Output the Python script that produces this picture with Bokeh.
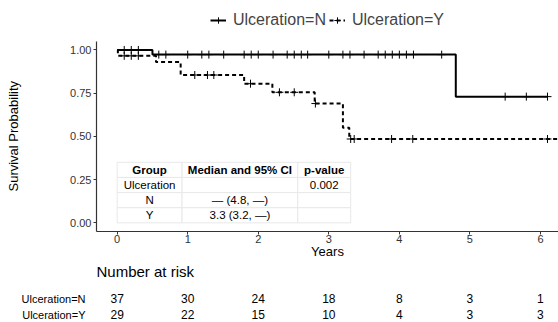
import numpy as np
from bokeh.plotting import figure
from bokeh.models import (Range1d, FactorRange, FixedTicker, NumeralTickFormatter,
                          Legend, LegendItem, ColumnDataSource, Title)
from bokeh.layouts import column
from bokeh.embed import file_html
from bokeh.resources import INLINE
from bokeh.core.properties import value

FONT = "Liberation Sans"

# ---------------- data ----------------
year_ticks = [0, 1, 2, 3, 4, 5, 6]
surv_ticks = [0.0, 0.25, 0.5, 0.75, 1.0]

groups = ["Ulceration=N", "Ulceration=Y"]

n_step_time = [0.0, 0.5, 4.8, 6.1]
n_step_surv = [1.0, 0.973, 0.730, 0.730]
n_censor_time = [0.1, 0.2, 0.3, 0.59, 0.69, 1.0, 1.2, 1.3, 1.51, 1.8, 1.9, 2.0, 2.21,
                 2.41, 2.51, 2.61, 2.7, 3.0, 3.2, 3.3, 3.5, 3.7, 3.8, 3.9, 4.0, 4.1,
                 4.2, 4.6, 5.5, 5.8, 6.1]

y_step_time = [0.0, 0.01, 0.55, 0.9, 1.8, 2.2, 2.8, 3.2, 3.29, 6.6]
y_step_surv = [1.0, 0.966, 0.93, 0.855, 0.805, 0.755, 0.69, 0.55, 0.485, 0.485]
y_censor_time = [0.1, 0.2, 0.3, 1.1, 1.28, 1.37, 1.89, 2.3, 2.51, 2.81, 3.31, 3.36,
                 3.89, 4.19, 6.1]

risk_times = [0, 1, 2, 3, 4, 5, 6]
risk_n = [37, 30, 24, 18, 8, 3, 1]
risk_y = [29, 22, 15, 10, 4, 3, 3]

table_header = ["Group", "Median and 95% CI", "p-value"]
table_rows = [["Ulceration", "", "0.002"],
              ["N", "\u2014 (4.8, \u2014)", ""],
              ["Y", "3.3 (3.2, \u2014)", ""]]


def surv_at(step_t, step_s, t):
    idx = np.searchsorted(np.array(step_t), np.array(t), side="right") - 1
    return list(np.array(step_s)[idx])


# ---------------- main KM plot ----------------
# frame spans the whole top of the figure; the axis line is bounded to [-0.05, 1.05]
x_rng = Range1d(-0.293, 6.256)
p = figure(width=558, height=282, x_range=x_rng, y_range=Range1d(-0.05, 1.286),
           output_backend="svg", toolbar_location=None,
           min_border_left=96, min_border_right=0, min_border_top=0, min_border_bottom=50)
p.outline_line_color = None
p.grid.visible = False

rN = p.step(n_step_time, n_step_surv, mode="after", line_width=2, line_color="black")
sN = p.scatter(n_censor_time, surv_at(n_step_time, n_step_surv, n_censor_time),
               marker="cross", size=8, line_width=1, line_color="black")
rY = p.step(y_step_time, y_step_surv, mode="after", line_width=2, line_color="black",
            line_dash="4 3")
sY = p.scatter(y_censor_time, surv_at(y_step_time, y_step_surv, y_censor_time),
               marker="cross", size=8, line_width=1, line_color="black")

# table inside the plot
col_edges = [0.0, 0.92, 2.56, 3.31]
row_edges = [0.35, 0.2625, 0.175, 0.0875, 0.0]
all_rows = [table_header] + table_rows
ql, qr, qb, qt = [], [], [], []
tx, ty, tt, tw = [], [], [], []
for ri, row in enumerate(all_rows):
    for ci, cell in enumerate(row):
        ql.append(col_edges[ci]); qr.append(col_edges[ci + 1])
        qt.append(row_edges[ri]); qb.append(row_edges[ri + 1])
        tx.append((col_edges[ci] + col_edges[ci + 1]) / 2)
        ty.append((row_edges[ri] + row_edges[ri + 1]) / 2)
        tt.append(cell)
        tw.append("bold" if ri == 0 else "normal")
p.quad(left=ql, right=qr, bottom=qb, top=qt, fill_color="white",
       line_color="#e8e8e8", line_width=1)
p.text(x="x", y="y", text="t", text_font_style="w",
       source=ColumnDataSource(dict(x=tx, y=ty, t=tt, w=tw)),
       text_font=value(FONT), text_font_size="11.5px", text_color="black",
       text_align="center", text_baseline="middle")

# axes
for ax in (p.xaxis[0], p.yaxis[0]):
    ax.axis_line_color = "#333333"
    ax.axis_line_width = 1.2
    ax.major_tick_line_color = "#333333"
    ax.major_tick_in = 0
    ax.major_tick_out = 3
    ax.minor_tick_line_color = None
    ax.major_label_text_font = FONT
    ax.major_label_text_font_size = "11px"
    ax.major_label_text_color = "#333333"
    ax.axis_label_text_font = FONT
    ax.axis_label_text_font_size = "13px"
    ax.axis_label_text_font_style = "normal"
    ax.axis_label_text_color = "black"

p.xaxis.ticker = FixedTicker(ticks=year_ticks)
p.xaxis.axis_label = "Years"
p.xaxis.major_label_standoff = 0
p.xaxis.axis_label_standoff = -2

p.yaxis.ticker = FixedTicker(ticks=surv_ticks)
p.yaxis.formatter = NumeralTickFormatter(format="0.00")
p.yaxis.bounds = (-0.05, 1.05)
p.yaxis.major_label_standoff = 2

# y title (with a blank spacer between it and the tick labels),
# centred on the bounded axis rather than on the frame
p.add_layout(Title(text=" ", text_font=FONT, text_font_size="13px", standoff=30), "left")
p.add_layout(Title(text="Survival Probability", text_font=FONT, text_font_size="13px",
                   text_font_style="normal", text_color="black",
                   align="left", offset=40, standoff=0), "left")

# "Number at risk" heading under the x axis
p.add_layout(Title(text="Number at risk", text_font=FONT, text_font_size="15px",
                   text_font_style="normal", text_color="black",
                   align="left", vertical_align="top", standoff=2), "below")

legend = Legend(items=[LegendItem(label=groups[0], renderers=[rN, sN]),
                       LegendItem(label=groups[1], renderers=[rY, sY])],
                orientation="horizontal", location="top_center",
                label_text_font=FONT, label_text_font_size="16px",
                glyph_width=16, glyph_height=16, label_standoff=7, spacing=3,
                padding=0, margin=11, border_line_alpha=0, background_fill_alpha=0)
p.add_layout(legend, "center")

# ---------------- risk table ----------------
r = figure(width=558, height=40, x_range=x_rng,
           y_range=FactorRange(factors=list(reversed(groups))),
           output_backend="svg", toolbar_location=None, x_axis_location=None,
           min_border_left=96, min_border_right=0, min_border_top=8, min_border_bottom=0)
r.outline_line_color = None
r.grid.visible = False
r.yaxis.axis_line_color = None
r.yaxis.major_tick_line_color = None
r.yaxis.minor_tick_line_color = None
r.yaxis.major_label_text_font = FONT
r.yaxis.major_label_text_font_size = "11px"
r.yaxis.major_label_text_color = "black"
r.yaxis.major_label_standoff = 5

rx, ry, rt = [], [], []
for g, vals in zip(groups, [risk_n, risk_y]):
    for t, v in zip(risk_times, vals):
        rx.append(t); ry.append(g); rt.append(str(v))
r.text(x="x", y="y", text="t", source=ColumnDataSource(dict(x=rx, y=ry, t=rt)),
       text_font=value(FONT), text_font_size="12px", text_color="black",
       text_align="center", text_baseline="middle")

layout = column(p, r)
open("out.html", "w").write(file_html(layout, INLINE))
